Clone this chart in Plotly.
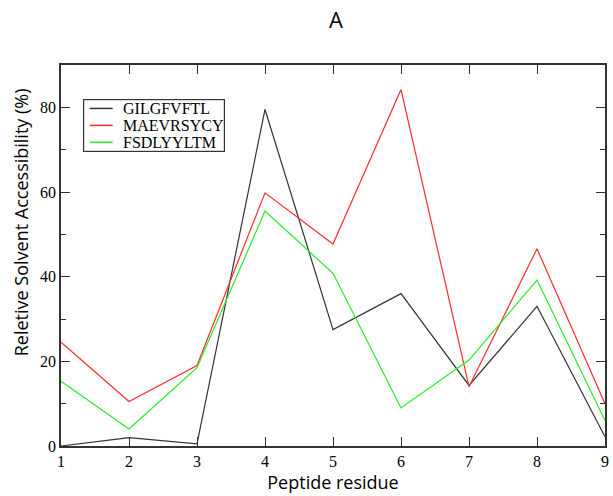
import plotly.graph_objects as go

residues = [1, 2, 3, 4, 5, 6, 7, 8, 9]
gilgfvftl = [0, 2, 0.5, 79.5, 27.5, 36, 14.3, 33, 2.2]
maevrsycy = [24.5, 10.5, 19, 59.8, 47.7, 84.2, 14, 46.6, 10]
fsdlyyltm = [15.3, 4, 18.5, 55.5, 40.8, 9, 20.3, 39.2, 6]

series = [
    ("GILGFVFTL", gilgfvftl, "#333333"),
    ("MAEVRSYCY", maevrsycy, "#ff2a2a"),
    ("FSDLYYLTM", fsdlyyltm, "#22ee22"),
]

serif = "Liberation Serif, Times New Roman, serif"
sans = "Open Sans, sans-serif"

fig = go.Figure()
for name, vals, color in series:
    fig.add_trace(go.Scatter(x=residues, y=vals, mode="lines", name=name,
                             line=dict(color=color, width=1.2), showlegend=False))

# Legend frame: an empty bordered annotation in the upper-left of the plot area
bx0, bx1 = 0.044, 0.2995
by0, by1 = 0.771, 0.911
fig.add_annotation(text=" ", xref="paper", yref="paper",
                   x=(bx0 + bx1) / 2, y=(by0 + by1) / 2,
                   xanchor="center", yanchor="middle", showarrow=False,
                   width=140, height=51, borderpad=0,
                   bordercolor="#333333", borderwidth=1.2, bgcolor="rgba(0,0,0,0)")

# Legend entries: short line sample on a hidden unit-square overlay axis plus label
row_y = [0.886, 0.8415, 0.797]
for (name, _, color), ry in zip(series, row_y):
    fig.add_trace(go.Scatter(x=[0.053, 0.095], y=[ry, ry], mode="lines",
                             line=dict(color=color, width=1.5),
                             xaxis="x2", yaxis="y2", showlegend=False, hoverinfo="skip"))
    fig.add_annotation(text=name, xref="paper", yref="paper", x=0.111, y=ry,
                       xanchor="left", yanchor="middle", showarrow=False,
                       font=dict(family=serif, size=16, color="black"))

# Y-axis title placed as an annotation so it sits a little above centre
fig.add_annotation(text="Reletive Solvent Accessibility (%)", xref="paper", yref="paper",
                   x=-0.073, y=0.588, xanchor="center", yanchor="middle",
                   textangle=-90, showarrow=False,
                   font=dict(family=sans, size=18, color="black"))

fig.update_layout(
    width=613, height=496,
    margin=dict(l=61, r=4, t=65, b=50),
    paper_bgcolor="white", plot_bgcolor="white",
    title=dict(text="A", x=0.548, xanchor="center", y=0.96, yanchor="middle",
               font=dict(family=sans, size=22, color="black")),
    showlegend=False,
    xaxis=dict(
        range=[1, 9], dtick=1, tick0=1,
        showline=True, linecolor="#333333", linewidth=1.5, mirror="ticks",
        ticks="inside", ticklen=9, tickcolor="#333333",
        showgrid=False, zeroline=False,
        tickfont=dict(family=serif, size=16, color="black"),
        title=dict(text="Peptide residue", font=dict(family=sans, size=18, color="black"), standoff=6),
    ),
    yaxis=dict(
        range=[0, 90], dtick=20, tick0=0,
        showline=True, linecolor="#333333", linewidth=1.5, mirror="ticks",
        ticks="inside", ticklen=9, tickcolor="#333333",
        minor=dict(ticks="inside", ticklen=5, dtick=10, tick0=0, tickcolor="#333333"),
        showgrid=False, zeroline=False,
        tickfont=dict(family=serif, size=16, color="black"),
    ),
    xaxis2=dict(overlaying="x", range=[0, 1], visible=False, fixedrange=True),
    yaxis2=dict(overlaying="y", range=[0, 1], visible=False, fixedrange=True),
)

fig.write_html("out.html")
